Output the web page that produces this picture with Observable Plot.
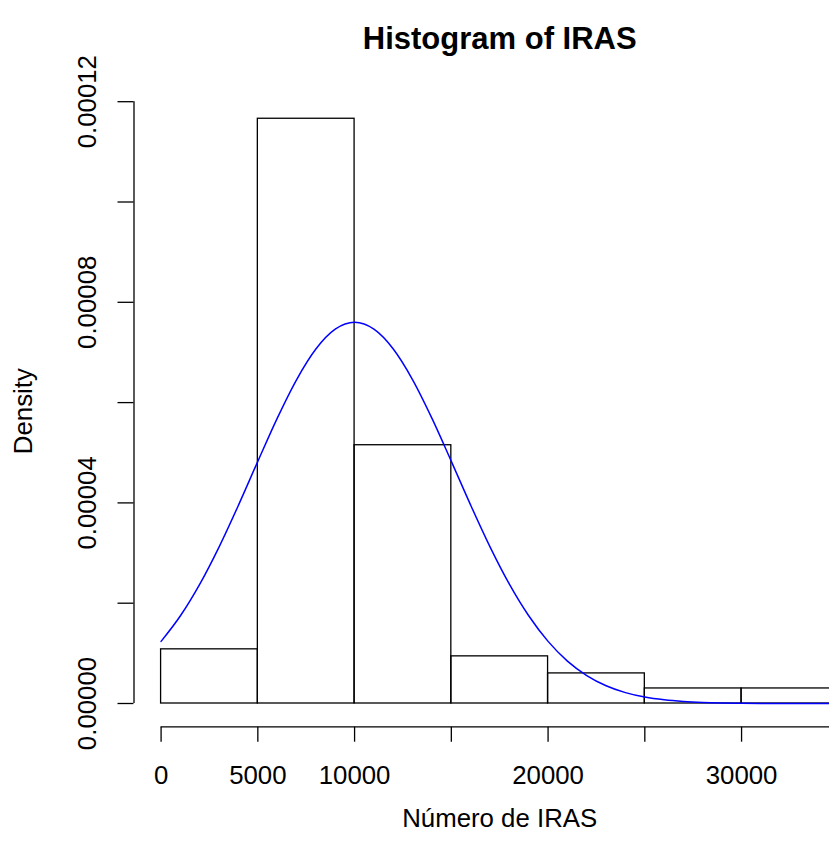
<!DOCTYPE html>
<html>
<head>
<meta charset="utf-8">
<script src="https://cdn.jsdelivr.net/npm/d3@7"></script>
<script src="https://cdn.jsdelivr.net/npm/@observablehq/plot@0.6"></script>
<style>
  html, body { margin: 0; padding: 0; background: #ffffff; }
  #chart svg { display: block; }
</style>
</head>
<body>
<div id="chart"></div>
<script>
// Histogram bins (left and right edges) and their densities
const binStart = [0, 5000, 10000, 15000, 20000, 25000, 30000];
const binEnd   = [5000, 10000, 15000, 20000, 25000, 30000, 35000];
const density  = [0.0000108, 0.0001166, 0.0000515, 0.0000094, 0.0000060, 0.0000030, 0.0000030];

// Fitted normal density curve, sampled along the x range
const curveX = [0, 1000, 2000, 3000, 4000, 5000, 6000, 7000, 8000, 9000,
                10000, 11000, 12000, 13000, 14000, 15000, 16000, 17000, 18000, 19000,
                20000, 21000, 22000, 23000, 24000, 25000, 26000, 27000, 28000, 29000,
                30000, 31000, 32000, 33000, 34000, 35000];
const curveY = [0.00001239, 0.00001749, 0.00002380, 0.00003124, 0.00003955, 0.00004829,
                0.00005686, 0.00006455, 0.00007068, 0.00007463, 0.00007600, 0.00007463,
                0.00007068, 0.00006455, 0.00005686, 0.00004829, 0.00003955, 0.00003124,
                0.00002380, 0.00001749, 0.00001239, 0.00000846, 0.00000558, 0.00000354,
                0.00000217, 0.00000128, 0.00000073, 0.00000040, 0.00000021, 0.00000011,
                0.00000005, 0.00000002, 0.00000001, 0, 0, 0];

// Axis ticks and the labels that are printed
const xTicks = [0, 5000, 10000, 15000, 20000, 25000, 30000, 35000];
const xTickLabels = [0, 5000, 10000, 20000, 30000];
const yTicks = [0, 0.00002, 0.00004, 0.00006, 0.00008, 0.00010, 0.00012];
const yTickLabels = [0, 0.00004, 0.00008, 0.00012];

const bins = binStart.map((x1, i) => ({x1, x2: binEnd[i], d: density[i]}));
const curve = curveX.map((x, i) => ({x, y: curveY[i]}));

// Plot region extends 4% beyond the data range on each side
const xLo = binStart[0], xHi = binEnd[binEnd.length - 1];
const yHi = d3.max(density);
const xPad = 0.04 * (xHi - xLo);
const yPad = 0.04 * yHi;
const xEdge = xLo - xPad;
const yEdge = -yPad;
const xMid = (xLo + xHi) / 2;
const yMid = yHi / 2;

const font = "Liberation Sans, Arial, Helvetica, sans-serif";
const ink = "#000000";
const fs = 25.8;

const chart = Plot.plot({
  width: 829,
  height: 850,
  marginLeft: 133.5,
  marginRight: 0,
  marginTop: 0,
  marginBottom: 123.3,
  style: {fontFamily: font, background: "#ffffff", overflow: "hidden"},
  x: {domain: [xEdge, xHi + xPad], range: [133.5, 864.9]},
  y: {domain: [0, 0.00012], range: [703, 101.2]},
  marks: [
    // histogram bars
    Plot.rect(bins, {x1: "x1", x2: "x2", y1: 0, y2: "d", fill: "none", stroke: ink, strokeWidth: 1.3}),
    // normal density curve
    Plot.line(curve, {x: "x", y: "y", stroke: "#0000ff", strokeWidth: 1.5, curve: "monotone-x"}),
    // y axis
    Plot.ruleX([xEdge], {y1: yTicks[0], y2: yTicks[yTicks.length - 1], stroke: ink, strokeWidth: 1.3}),
    Plot.axisY({ticks: yTicks, tickSize: 16, tickFormat: () => "", stroke: ink, strokeWidth: 1.3, label: null}),
    Plot.text(yTickLabels, {
      x: xEdge, y: d => d, text: d => d.toFixed(5), rotate: -90, dx: -46,
      fontSize: fs, fill: ink, textAnchor: "middle", lineAnchor: "middle"
    }),
    // x axis
    Plot.ruleY([yEdge], {x1: xTicks[0], x2: xTicks[xTicks.length - 1], stroke: ink, strokeWidth: 1.3}),
    Plot.axisX({ticks: xTicks, tickSize: 15, tickFormat: () => "", stroke: ink, strokeWidth: 1.3, label: null}),
    Plot.text(xTickLabels, {
      x: d => d, y: yEdge, text: d => String(d), dy: 49,
      fontSize: fs, fill: ink, lineAnchor: "middle"
    }),
    // titles
    Plot.text(["Histogram of IRAS"], {
      x: xMid, frameAnchor: "top", dy: 39, lineAnchor: "middle",
      fontSize: 31, fontWeight: "bold", fill: ink
    }),
    Plot.text(["Número de IRAS"], {
      x: xMid, y: yEdge, dy: 92, lineAnchor: "middle",
      fontSize: fs, fill: ink
    }),
    Plot.text(["Density"], {
      x: xEdge, y: yMid, dx: -110, rotate: -90, lineAnchor: "middle",
      fontSize: fs, fill: ink
    })
  ]
});

document.getElementById("chart").appendChild(chart);
</script>
</body>
</html>
